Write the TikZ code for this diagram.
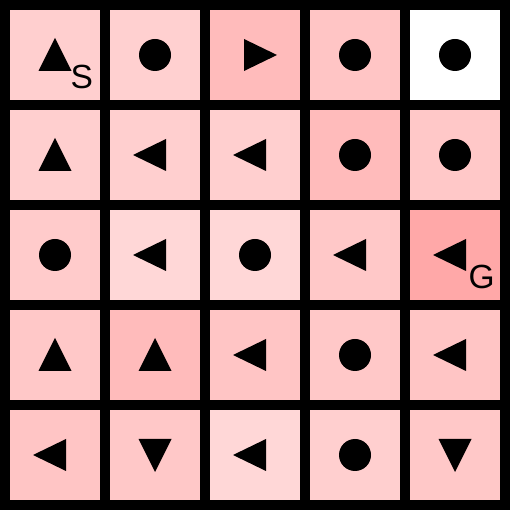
\documentclass[tikz,border=0pt]{standalone}
\usepackage{fontspec}
\setmainfont{Liberation Sans}
\begin{document}
\begin{tikzpicture}[x=1pt,y=1pt,line join=round,
    cell/.style={rectangle,inner sep=0pt,minimum size=90pt,fill={rgb,255:red,255;green,#1;blue,#1}},
    letter/.style={anchor=base west,inner sep=0pt,font=\fontsize{33.5}{33.5}\selectfont},
    pics/mku/.style={code={\fill (-16.5,-16)--(16.5,-16)--(0,17)--cycle;}},
    pics/mkd/.style={code={\fill (-16.5,16)--(16.5,16)--(0,-17)--cycle;}},
    pics/mkl/.style={code={\fill (11,16)--(11,-16)--(-22,0)--cycle;}},
    pics/mkr/.style={code={\fill (-11,16)--(-11,-16)--(22,0)--cycle;}},
    pics/mko/.style={code={\fill (0,0) circle (16);}}]
  \fill[black] (0,0) rectangle (510,510);
  % column/row/marker/green-blue level
  \foreach \c/\r/\m/\v in {0/0/u/207,1/0/o/208,2/0/r/187,3/0/o/197,4/0/o/255,
      0/1/u/207,1/1/l/207,2/1/l/207,3/1/o/187,4/1/o/200,
      0/2/o/203,1/2/l/215,2/2/o/215,3/2/l/200,4/2/l/168,
      0/3/u/200,1/3/u/187,2/3/l/197,3/3/o/200,4/3/l/197,
      0/4/l/197,1/4/d/200,2/4/l/215,3/4/o/207,4/4/d/200}{
    \node[cell=\v] (cell-\c-\r) at ({55+100*\c},{455-100*\r}) {};
    \pic at (cell-\c-\r) {mk\m};
  }
  \node[letter] (start) at ([shift={(15.5,-34)}]cell-0-0.center) {S};
  \node[letter] (goal) at ([shift={(13.5,-34)}]cell-4-2.center) {G};
\end{tikzpicture}
\end{document}
